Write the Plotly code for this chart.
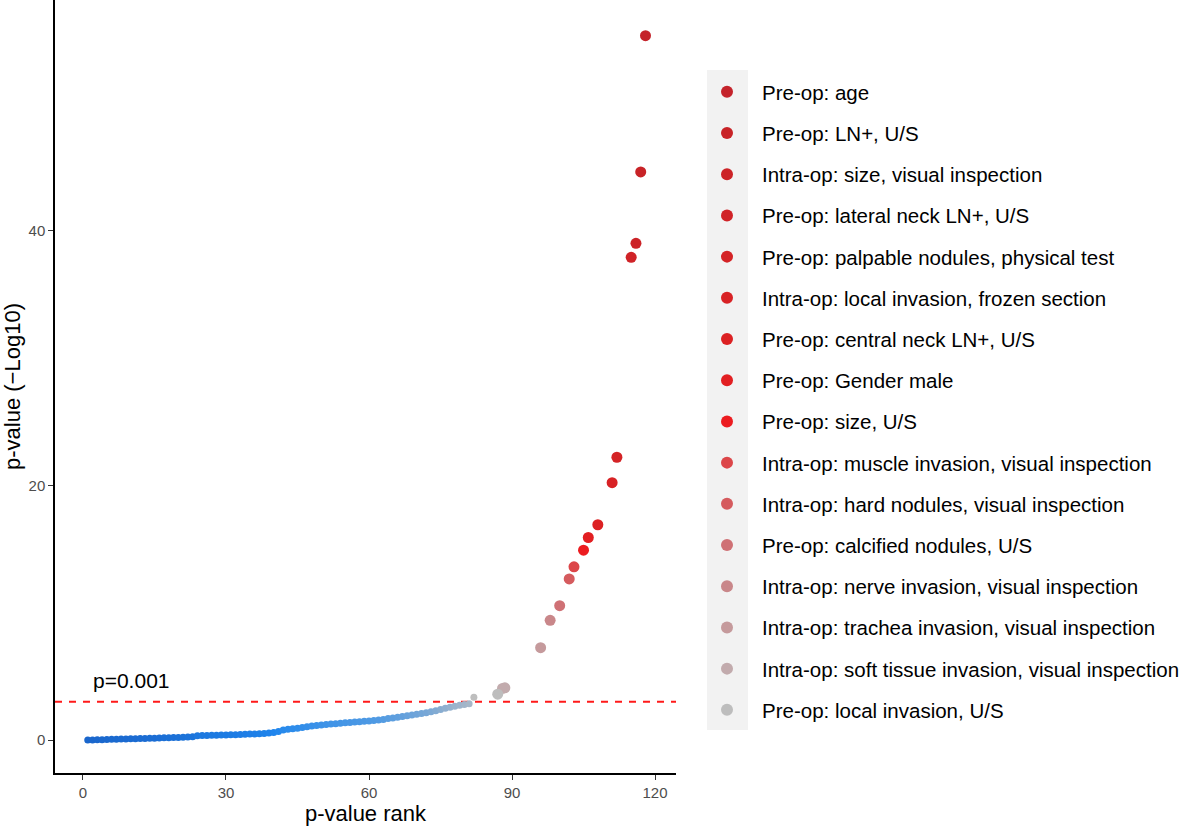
import plotly.graph_objects as go

# ---- background (non-significant / blue-gradient) series ----
bg_rank = list(range(1, 83))
bg_val = [0.00, 0.01, 0.02, 0.03, 0.04, 0.05, 0.06, 0.07, 0.08, 0.09,
          0.10, 0.11, 0.12, 0.13, 0.14, 0.16, 0.17, 0.18, 0.19, 0.20,
          0.22, 0.24, 0.26, 0.33, 0.35, 0.36, 0.37, 0.38, 0.39, 0.40,
          0.41, 0.42, 0.44, 0.45, 0.47, 0.48, 0.50, 0.52, 0.55, 0.58,
          0.66, 0.78, 0.84, 0.88, 0.92, 0.98, 1.04, 1.10, 1.14, 1.18,
          1.22, 1.26, 1.28, 1.31, 1.35, 1.38, 1.41, 1.44, 1.47, 1.50,
          1.53, 1.57, 1.62, 1.68, 1.73, 1.78, 1.84, 1.90, 1.96, 2.02,
          2.08, 2.14, 2.22, 2.30, 2.40, 2.50, 2.58, 2.66, 2.72, 2.78,
          2.84, 3.35]

# ---- labelled predictors ----
labels = [
    "Pre-op: age",
    "Pre-op: LN+, U/S",
    "Intra-op: size, visual inspection",
    "Pre-op: lateral neck LN+, U/S",
    "Pre-op: palpable nodules, physical test",
    "Intra-op: local invasion, frozen section",
    "Pre-op: central neck LN+, U/S",
    "Pre-op: Gender male",
    "Pre-op: size, U/S",
    "Intra-op: muscle invasion, visual inspection",
    "Intra-op: hard nodules, visual inspection",
    "Pre-op: calcified nodules, U/S",
    "Intra-op: nerve invasion, visual inspection",
    "Intra-op: trachea invasion, visual inspection",
    "Intra-op: soft tissue invasion, visual inspection",
    "Pre-op: local invasion, U/S",
]
lab_rank = [[118], [117], [116], [115], [112], [111], [108], [106], [105],
            [103], [102], [100], [98], [96], [88, 88.5], [87]]
lab_val = [[55.3], [44.6], [39.0], [37.9], [22.2], [20.2], [16.9], [15.9], [14.9],
           [13.6], [12.65], [10.55], [9.4], [7.25], [4.05, 4.1], [3.6]]
lab_col = ["#C4232B", "#C82327", "#CC2327", "#D02327", "#D42326", "#D82225",
           "#DC2123", "#E21F22", "#EC1C20", "#DC4649", "#D55B5E", "#CF7175",
           "#C9878A", "#C59A9C", "#C2ABAD", "#BDBDBD"]

threshold = 3.0  # -log10(0.001)
x_ticks = [0, 30, 60, 90, 120]
y_ticks = [0, 20, 40]

FONT = "Liberation Sans, Arial, sans-serif"

fig = go.Figure()

fig.add_trace(go.Scatter(
    x=bg_rank, y=bg_val, mode="markers", showlegend=False, hoverinfo="skip",
    marker=dict(size=7, color=bg_val, cmin=0, cmax=3.35,
                colorscale=[[0, "#1A66CC"], [0.18, "#1F86EE"], [0.45, "#4D99E4"],
                            [0.85, "#A6B7C8"], [1, "#BEBEBE"]],
                line=dict(width=0))))

for i, lab in enumerate(labels):
    fig.add_trace(go.Scatter(
        x=lab_rank[i], y=lab_val[i], mode="markers", name=lab,
        legendgroup=lab,
        marker=dict(size=11, color=lab_col[i], line=dict(width=0))))

# threshold line
fig.add_shape(type="line", xref="paper", x0=0, x1=1, yref="y", y0=threshold, y1=threshold,
              line=dict(color="#FF1A1A", width=2, dash="7px,7px"), layer="below")
fig.add_annotation(x=1.6, y=4.65, xref="x", yref="y", text="p=0.001", showarrow=False,
                   xanchor="left", yanchor="middle", font=dict(size=21, color="black", family=FONT))

# grey legend-key background
fig.add_shape(type="rect", xref="paper", yref="paper", x0=(707 - 55) / 621, x1=(748 - 55) / 621,
              y0=(773 - 730) / 773, y1=(773 - 70) / 773,
              fillcolor="#F2F2F2", line=dict(width=0), layer="below")

fig.update_layout(
    width=1181, height=829,
    margin=dict(l=55, r=505, t=0, b=56, autoexpand=False),
    paper_bgcolor="white", plot_bgcolor="white",
    font=dict(family=FONT, color="black"),
    legend=dict(x=(692 - 55) / 621, xanchor="left", y=1 - 72 / 773, yanchor="top",
                font=dict(size=20.5, color="black", family=FONT),
                bgcolor="rgba(0,0,0,0)", traceorder="grouped", tracegroupgap=11.55,
                itemsizing="constant", itemwidth=60),
    xaxis=dict(range=[-5.87, 124.4], tickvals=x_ticks, showgrid=False, zeroline=False,
               automargin=False,
               showline=True, linecolor="black", linewidth=1.5, ticks="outside",
               ticklen=5, tickcolor="#333333", tickwidth=1.2,
               tickfont=dict(size=15, color="#4D4D4D"),
               title=dict(text="p-value rank", font=dict(size=22, color="black"), standoff=4)),
    yaxis=dict(range=[-2.59, 58.1], tickvals=y_ticks, showgrid=False, zeroline=False,
               automargin=False,
               showline=True, linecolor="black", linewidth=1.5, ticks="outside",
               ticklen=5, tickcolor="#333333", tickwidth=1.2,
               tickfont=dict(size=15, color="#4D4D4D"),
               title=dict(text="p-value (\u2212Log10)", font=dict(size=22, color="black"), standoff=4)),
)

fig.write_html("out.html", config={"displayModeBar": False},
               post_script="document.body.style.margin='0';document.body.style.overflow='hidden';")
